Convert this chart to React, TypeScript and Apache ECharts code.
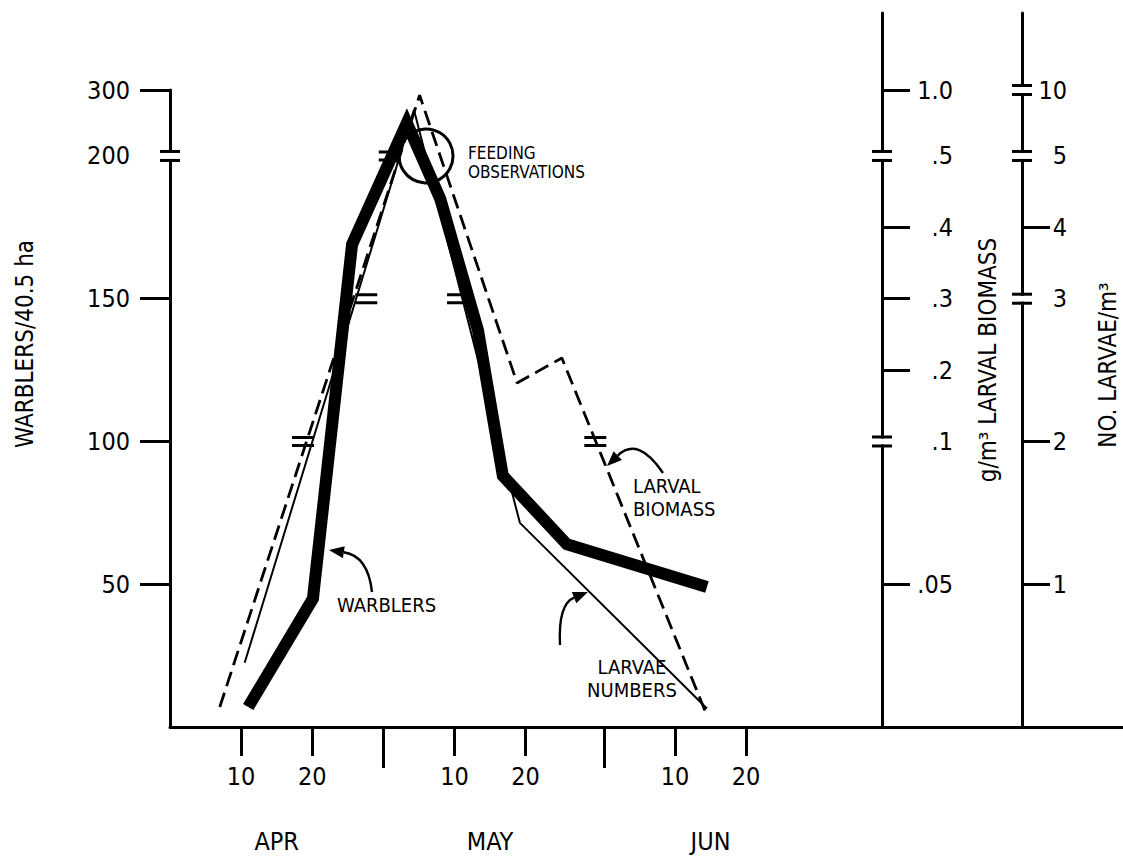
import React, { useEffect, useRef } from 'react';
import * as echarts from 'echarts';

// ---- x axis: days counted from 31 March (10 = 10 Apr, 40 = 10 May, 71 = 10 Jun)
const DAY_TICKS = [10, 20, 40, 50, 71, 81];
const DAY_TICK_LABELS = ['10', '20', '10', '20', '10', '20'];
const MONTH_END_TICKS = [30, 61];
const MONTH_POS = [15, 45, 76];
const MONTH_LABELS = ['APR', 'MAY', 'JUN'];

// ---- left axis: warblers / 40.5 ha (broken above 200)
const WARBLER_TICKS = [50, 100, 150, 200, 300];
const WARBLER_LABELS = ['50', '100', '150', '200', '300'];
const WARBLER_TICK_MARKS = [50, 100, 150, 300];
const WARBLER_BREAKS = [200];
const WARBLER_KNOTS = [[0, 0], [200, 200], [300, 223.1]];

// ---- biomass axis: g/m3 (broken at .1 and .5)
const BIOMASS_TICKS = [0.05, 0.1, 0.2, 0.3, 0.4, 0.5, 1.0];
const BIOMASS_LABELS = ['.05', '.1', '.2', '.3', '.4', '.5', '1.0'];
const BIOMASS_TICK_MARKS = [0.05, 0.2, 0.3, 0.4, 1.0];
const BIOMASS_BREAKS = [0.1, 0.5];
const BIOMASS_KNOTS = [[0, 0], [0.1, 100], [0.5, 200], [1.0, 223.1]];

// ---- larvae number axis: no./m3 (broken at 3, 5, 10)
const LARVAE_TICKS = [1, 2, 3, 4, 5, 10];
const LARVAE_LABELS = ['1', '2', '3', '4', '5', '10'];
const LARVAE_TICK_MARKS = [1, 2, 4];
const LARVAE_BREAKS = [3, 5, 10];
const LARVAE_KNOTS = [[0, 0], [3, 150], [5, 200], [10, 223.1]];

// ---- series
const WARBLER_DAYS = [11, 20.1, 25.6, 33.3, 38, 43.3, 46.8, 55.8, 75.5];
const WARBLER_VALUES = [7, 45, 169, 250, 185, 139, 88, 64, 49];
const LARVAE_DAYS = [10.5, 34.3, 48.1, 49.2, 75.5];
const LARVAE_VALUES = [0.45, 8.5, 1.64, 1.43, 0.13];
const BIOMASS_DAYS = [7, 35.1, 48.8, 55.1, 75.5];
const BIOMASS_VALUES = [0.007, 0.96, 0.182, 0.217, 0.004];

// scale-break marks drawn on the lines (day, level on warbler scale)
const LINE_BREAK_DAYS = [18.7, 27.6, 40.5, 30.9, 59.8];
const LINE_BREAK_LEVELS = [100, 150, 150, 200, 100];
const FEEDING_DAY = [36];
const FEEDING_LEVEL = [200];

const FONT = "'Liberation Sans Narrow', 'DejaVu Sans Condensed', 'Liberation Sans', sans-serif";

function toInternal(v: number, knots: number[][]): number {
  for (let i = 1; i < knots.length; i++) {
    const [x0, y0] = knots[i - 1];
    const [x1, y1] = knots[i];
    if (v <= x1 || i === knots.length - 1) return y0 + ((v - x0) * (y1 - y0)) / (x1 - x0);
  }
  return v;
}

const labelFor = (ticks: number[], labels: string[], knots: number[][]) => (v: number) => {
  const i = ticks.findIndex((t) => Math.abs(toInternal(t, knots) - v) < 0.05);
  return i >= 0 ? labels[i] : '';
};

function arrow(x1: number, y1: number, cx: number, cy: number, x2: number, y2: number) {
  const dx = x2 - cx;
  const dy = y2 - cy;
  const L = Math.hypot(dx, dy);
  const ux = dx / L;
  const uy = dy / L;
  const len = 15;
  const hw = 6;
  const bx = x2 - ux * len;
  const by = y2 - uy * len;
  return [
    {
      type: 'bezierCurve',
      shape: { x1, y1, x2: bx, y2: by, cpx1: cx, cpy1: cy },
      style: { stroke: '#000', lineWidth: 2.4, fill: null },
      z: 50,
    },
    {
      type: 'polygon',
      shape: { points: [[x2, y2], [bx - uy * hw, by + ux * hw], [bx + uy * hw, by - ux * hw]] },
      style: { fill: '#000' },
      z: 50,
    },
  ];
}

function txt(text: string, x: number, y: number, size: number, align = 'left', rotation = 0) {
  return {
    type: 'text',
    x,
    y,
    rotation,
    z: 60,
    style: { text, fontSize: size, fontFamily: FONT, fill: '#000', align, verticalAlign: 'middle' },
  };
}

const X_MAX = 134;
const Y0_MAX = 223.1;
const Y1_MAX = (223.1 * 714) / 637;

export default function App() {
  const ref = useRef<HTMLDivElement>(null);

  useEffect(() => {
    document.body.style.margin = '0';
    const chart = echarts.init(ref.current as HTMLDivElement, null, { renderer: 'svg' });

    const axisLineStyle = { color: '#000', width: 3 };
    const labelStyle = { color: '#000', fontSize: 25, fontFamily: FONT };

    const option: any = {
      animation: false,
      backgroundColor: '#fff',
      grid: [
        { left: 170, right: 0, top: 90, bottom: 136, outerBoundsMode: 'none', containLabel: false },
        { left: 170, right: 0, top: 13, bottom: 136, outerBoundsMode: 'none', containLabel: false },
      ],
      xAxis: [
        {
          gridIndex: 0, type: 'value', min: 0, max: X_MAX, position: 'bottom',
          axisLine: { show: true, onZero: false, lineStyle: axisLineStyle },
          axisTick: { show: true, customValues: DAY_TICKS, length: 29, lineStyle: { color: '#000', width: 3 } },
          axisLabel: {
            ...labelStyle, customValues: DAY_TICKS, margin: 37,
            formatter: (v: number) => { const i = DAY_TICKS.indexOf(Math.round(v)); return i >= 0 ? DAY_TICK_LABELS[i] : ''; },
          },
          splitLine: { show: false },
        },
        {
          gridIndex: 0, type: 'value', min: 0, max: X_MAX, position: 'bottom',
          axisLine: { show: false, onZero: false },
          axisTick: { show: true, customValues: MONTH_END_TICKS, length: 41, lineStyle: { color: '#000', width: 3 } },
          axisLabel: { show: false },
          splitLine: { show: false },
        },
        {
          gridIndex: 0, type: 'value', min: 0, max: X_MAX, position: 'bottom',
          axisLine: { show: false, onZero: false },
          axisTick: { show: false },
          axisLabel: {
            ...labelStyle, customValues: MONTH_POS, margin: 102,
            formatter: (v: number) => { const i = MONTH_POS.indexOf(Math.round(v)); return i >= 0 ? MONTH_LABELS[i] : ''; },
          },
          splitLine: { show: false },
        },
        { gridIndex: 1, type: 'value', min: 0, max: X_MAX, show: false, position: 'bottom' },
      ],
      yAxis: [
        {
          gridIndex: 0, type: 'value', min: 0, max: Y0_MAX, position: 'left',
          axisLine: { show: true, onZero: false, lineStyle: axisLineStyle },
          axisTick: { show: true, customValues: WARBLER_TICK_MARKS.map((t) => toInternal(t, WARBLER_KNOTS)), length: 30, lineStyle: { color: '#000', width: 3 } },
          axisLabel: {
            ...labelStyle, margin: 40, padding: [8, 0, 0, 0],
            customValues: WARBLER_TICKS.map((t) => toInternal(t, WARBLER_KNOTS)),
            formatter: labelFor(WARBLER_TICKS, WARBLER_LABELS, WARBLER_KNOTS),
          },
          splitLine: { show: false },
        },
        {
          gridIndex: 1, type: 'value', min: 0, max: Y1_MAX, position: 'right', offset: -241,
          axisLine: { show: true, onZero: false, lineStyle: axisLineStyle },
          axisTick: { show: true, customValues: BIOMASS_TICK_MARKS.map((t) => toInternal(t, BIOMASS_KNOTS)), length: 28, lineStyle: { color: '#000', width: 3 } },
          axisLabel: {
            ...labelStyle, margin: 71, align: 'right', padding: [12, 0, 0, 0],
            customValues: BIOMASS_TICKS.map((t) => toInternal(t, BIOMASS_KNOTS)),
            formatter: labelFor(BIOMASS_TICKS, BIOMASS_LABELS, BIOMASS_KNOTS),
          },
          splitLine: { show: false },
        },
        {
          gridIndex: 1, type: 'value', min: 0, max: Y1_MAX, position: 'right', offset: -101,
          axisLine: { show: true, onZero: false, lineStyle: axisLineStyle },
          axisTick: { show: true, customValues: LARVAE_TICK_MARKS.map((t) => toInternal(t, LARVAE_KNOTS)), length: 28, lineStyle: { color: '#000', width: 3 } },
          axisLabel: {
            ...labelStyle, margin: 45, align: 'right', padding: [10, 0, 0, 0],
            customValues: LARVAE_TICKS.map((t) => toInternal(t, LARVAE_KNOTS)),
            formatter: labelFor(LARVAE_TICKS, LARVAE_LABELS, LARVAE_KNOTS),
          },
          splitLine: { show: false },
        },
      ],
      series: [
        {
          name: 'Larval biomass', type: 'line', xAxisIndex: 0, yAxisIndex: 0, symbol: 'none', z: 3,
          data: BIOMASS_DAYS.map((d, i) => [d, toInternal(BIOMASS_VALUES[i], BIOMASS_KNOTS)]),
          lineStyle: { color: '#000', width: 2.8, type: [15, 7] },
        },
        {
          name: 'Larvae numbers', type: 'line', xAxisIndex: 0, yAxisIndex: 0, symbol: 'none', z: 4,
          data: LARVAE_DAYS.map((d, i) => [d, toInternal(LARVAE_VALUES[i], LARVAE_KNOTS)]),
          lineStyle: { color: '#000', width: 2 },
        },
        {
          name: 'Warblers', type: 'line', xAxisIndex: 0, yAxisIndex: 0, symbol: 'none', z: 2,
          data: WARBLER_DAYS.map((d, i) => [d, toInternal(WARBLER_VALUES[i], WARBLER_KNOTS)]),
          lineStyle: { color: '#000', width: 12, join: 'miter', miterLimit: 10 },
        },
        {
          name: 'Scale breaks', type: 'scatter', xAxisIndex: 0, yAxisIndex: 0, z: 6,
          symbol: 'path://M0,0H22V3H0ZM0,8H22V11H0Z', symbolSize: [22, 11],
          itemStyle: { color: '#000', opacity: 1 },
          data: LINE_BREAK_DAYS.map((d, i) => [d, toInternal(LINE_BREAK_LEVELS[i], WARBLER_KNOTS)]),
        },
        {
          name: 'Feeding observations', type: 'scatter', xAxisIndex: 0, yAxisIndex: 0, z: 7,
          symbol: 'circle', symbolSize: 54,
          itemStyle: { color: 'rgba(0,0,0,0)', borderColor: '#000', borderWidth: 3, opacity: 1 },
          data: FEEDING_DAY.map((d, i) => [d, toInternal(FEEDING_LEVEL[i], WARBLER_KNOTS)]),
        },
      ],
    };
    chart.setOption(option);

    const breakMarks: any[] = [];
    const addBreak = (ax: number, y: number) => {
      breakMarks.push({ type: 'rect', z: 40, shape: { x: ax - 6, y: y - 3, width: 12, height: 6 }, style: { fill: '#fff' } });
      breakMarks.push({ type: 'rect', z: 41, shape: { x: ax - 10, y: y - 6, width: 20, height: 3 }, style: { fill: '#000' } });
      breakMarks.push({ type: 'rect', z: 41, shape: { x: ax - 10, y: y + 3, width: 20, height: 3 }, style: { fill: '#000' } });
    };
    WARBLER_BREAKS.forEach((b) => addBreak(170, chart.convertToPixel({ yAxisIndex: 0 }, toInternal(b, WARBLER_KNOTS)) as number));
    BIOMASS_BREAKS.forEach((b) => addBreak(882, chart.convertToPixel({ yAxisIndex: 1 }, toInternal(b, BIOMASS_KNOTS)) as number));
    LARVAE_BREAKS.forEach((b) => addBreak(1022, chart.convertToPixel({ yAxisIndex: 2 }, toInternal(b, LARVAE_KNOTS)) as number));

    const graphic = [
      ...breakMarks,
      txt('WARBLERS/40.5 ha', 25, 344, 24, 'center', Math.PI / 2),
      txt('g/m³ LARVAL BIOMASS', 988, 360, 24, 'center', Math.PI / 2),
      txt('NO. LARVAE/m³', 1108, 365, 24, 'center', Math.PI / 2),
      txt('FEEDING', 468, 153, 17),
      txt('OBSERVATIONS', 468, 172, 17),
      txt('WARBLERS', 337, 605, 20),
      txt('LARVAL', 633, 486, 20),
      txt('BIOMASS', 633, 509, 20),
      txt('LARVAE', 632, 667, 20, 'center'),
      txt('NUMBERS', 632, 690, 20, 'center'),
      ...arrow(372, 592, 368, 556, 329, 550),
      ...arrow(663, 473, 638, 436, 607, 466),
      ...arrow(560, 645, 558, 604, 588, 592),
    ];
    chart.setOption({ graphic });

    return () => chart.dispose();
  }, []);

  return <div ref={ref} style={{ width: 1123, height: 863 }} />;
}
